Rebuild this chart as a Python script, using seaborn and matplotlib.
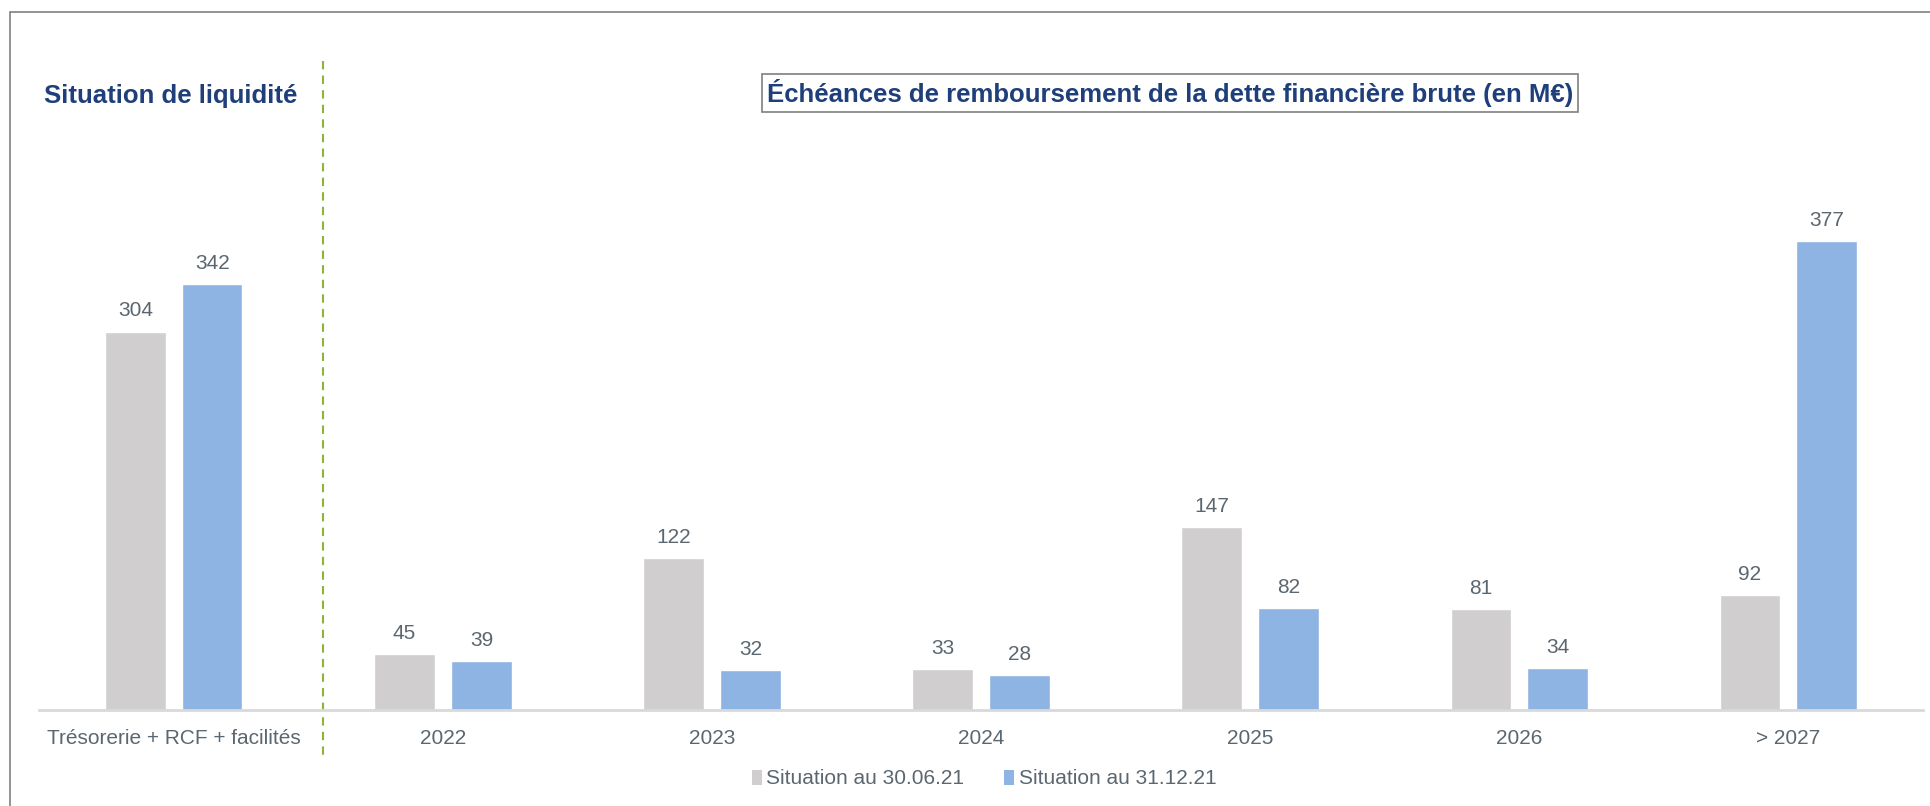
import pandas as pd
import matplotlib
matplotlib.use("Agg")
import matplotlib.pyplot as plt
import matplotlib.transforms as mtransforms
from matplotlib.patches import Rectangle, Patch
import seaborn as sns

# data
categories = ["Trésorerie + RCF + facilités", "2022", "2023", "2024", "2025", "2026", "> 2027"]
series_names = ["Situation au 30.06.21", "Situation au 31.12.21"]
values_jun21 = [304, 45, 122, 33, 147, 81, 92]
values_dec21 = [342, 39, 32, 28, 82, 34, 377]

GREY = "#D0CECE"
BLUE = "#8EB4E3"
NAVY = "#1F3F7A"
LABEL = "#5B6770"

df = pd.DataFrame({
    "categorie": categories * 2,
    "valeur": values_jun21 + values_dec21,
    "serie": [series_names[0]] * len(categories) + [series_names[1]] * len(categories),
})

sns.set_theme(style="white")
plt.rcParams["font.family"] = ["Liberation Sans", "DejaVu Sans"]

fig = plt.figure(figsize=(19.3, 8.06), dpi=100)
ax = fig.add_axes([0.0204, 0.1191, 0.9758, 0.6179])

sns.barplot(
    data=df, x="categorie", y="valeur", hue="serie",
    order=categories, hue_order=series_names,
    palette=[GREY, BLUE], width=0.572, gap=0.217,
    saturation=1, legend=False, ax=ax,
)

ax.set_xlim(-0.5, len(categories) - 0.5)
ax.set_ylim(0, 400)

for container in ax.containers:
    ax.bar_label(container, fmt="%d", padding=8, fontsize=15, color=LABEL)

# axes styling
for side in ["top", "right", "left"]:
    ax.spines[side].set_visible(False)
ax.spines["bottom"].set_color("#D9D9D9")
ax.spines["bottom"].set_linewidth(2)
ax.set_yticks([])
ax.set_xlabel("")
ax.set_ylabel("")
ax.tick_params(axis="x", length=0, pad=14, labelsize=15, labelcolor=LABEL)

# dashed separator between liquidity and maturities
trans = mtransforms.blended_transform_factory(ax.transData, fig.transFigure)
ax.plot([0.553, 0.553], [1 - 61 / 806, 1 - 757 / 806], transform=trans,
        color="#8DB33A", linewidth=1.5, linestyle=(0, (4, 3)), clip_on=False)

# titles
fig.text(44 / 1930, 1 - 96 / 806, "Situation de liquidité", fontsize=18.5,
         fontweight="bold", color=NAVY, ha="left", va="center")
fig.text(1170 / 1930, 1 - 93 / 806,
         "Échéances de remboursement de la dette financière brute (en M€)",
         fontsize=18.5, fontweight="bold", color=NAVY, ha="center", va="center",
         bbox=dict(boxstyle="square,pad=0.2", facecolor="white",
                   edgecolor="#7F7F7F", linewidth=1.2))

# legend
handles = [Patch(facecolor=GREY, edgecolor="none"), Patch(facecolor=BLUE, edgecolor="none")]
fig.legend(handles, series_names, loc="center", bbox_to_anchor=(984 / 1930, 1 - 779 / 806),
           ncol=2, frameon=False, fontsize=15, labelcolor=LABEL,
           handlelength=0.5, handleheight=0.7, handletextpad=0.2, columnspacing=1.9)

# outer frame (only top and left edges visible)
fig.patches.append(Rectangle((10 / 1930, -0.5), 2, 1.5 - 12 / 806,
                             transform=fig.transFigure, fill=False,
                             edgecolor="#808080", linewidth=1.2))

fig.savefig("out.png", dpi=100)
